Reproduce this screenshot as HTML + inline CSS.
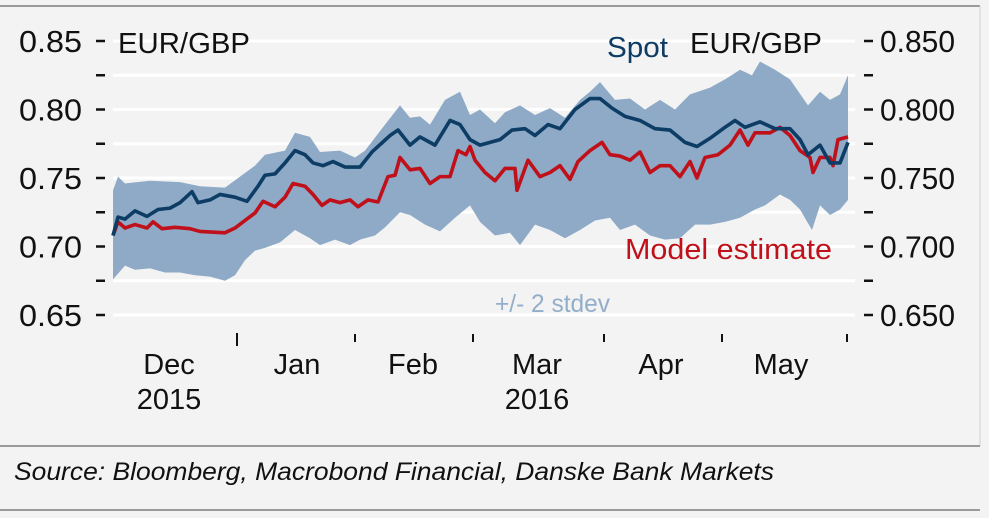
<!DOCTYPE html>
<html><head><meta charset="utf-8"><style>
html,body{margin:0;padding:0;background:#f3f3f3;}
svg{display:block;font-family:"Liberation Sans",sans-serif;}
</style></head><body>
<svg id="chart" width="989" height="518" viewBox="0 0 989 518">
<rect x="0" y="0" width="989" height="518" fill="#f3f3f3"/>
<line x1="0" y1="6" x2="980" y2="6" stroke="#9a9a9a" stroke-width="2"/>
<line x1="980" y1="6" x2="980" y2="446" stroke="#d0d0d0" stroke-width="1"/>
<g id="grid"></g>
<g id="band"></g>
<g id="lines"></g>
<g id="axes"></g>
<text x="118" y="53" font-size="29" fill="#111" textLength="132" lengthAdjust="spacingAndGlyphs">EUR/GBP</text>
<text x="690" y="53" font-size="29" fill="#111" textLength="132" lengthAdjust="spacingAndGlyphs">EUR/GBP</text>
<text x="607" y="57" font-size="29" fill="#0d3c64" textLength="61" lengthAdjust="spacingAndGlyphs">Spot</text>
<text x="625" y="259" font-size="29" fill="#c0101a" textLength="207" lengthAdjust="spacingAndGlyphs">Model estimate</text>
<text x="495" y="312" font-size="25" fill="#93aec8" textLength="115" lengthAdjust="spacingAndGlyphs">+/- 2 stdev</text>
<line x1="0" y1="446" x2="980" y2="446" stroke="#9a9a9a" stroke-width="2"/>
<text x="14" y="480" font-size="25" font-style="italic" fill="#111" textLength="760" lengthAdjust="spacingAndGlyphs">Source: Bloomberg, Macrobond Financial, Danske Bank Markets</text>
<line x1="0" y1="510" x2="980" y2="510" stroke="#9a9a9a" stroke-width="2"/>
</svg>
<script>
const yTicks=[0.65,0.70,0.75,0.80,0.85];
const yTickLabelsLeft=["0.65","0.70","0.75","0.80","0.85"];
const yTickLabelsRight=["0.650","0.700","0.750","0.800","0.850"];
const monthTickDays=[31,60.5,90,122.75,152.25,183.5];
const monthLabels=["Dec","Jan","Feb","Mar","Apr","May"];
const monthLabelDays=[14,46,75,106,137,167];
const yearLabels=["2015","2016"];
const yearLabelDays=[14,106];
const spotDays=[0,1.25,3,5.5,8.5,11.25,14.25,16.75,19.75,21.25,24.25,26.75,30.5,33.5,36.25,38,40.5,43,45.5,48,50,52.5,55,58,61.75,64.75,69.25,71.25,74.25,76.75,80.5,84.25,86.75,89.25,91.75,96.75,99.75,103,105.5,108.75,111.75,115.5,119.25,121.75,124.75,128,131.75,135.5,139.25,143,146,149.25,153,155.5,158,161.75,165.5,169.25,171.75,173.75,176.75,179.25,181.75,183.75];
const spotValues=[0.708,0.7215,0.720,0.726,0.722,0.727,0.728,0.732,0.740,0.732,0.734,0.738,0.736,0.733,0.744,0.752,0.753,0.761,0.770,0.767,0.761,0.759,0.762,0.758,0.758,0.769,0.781,0.785,0.774,0.780,0.774,0.792,0.789,0.778,0.774,0.778,0.785,0.786,0.781,0.789,0.786,0.800,0.808,0.808,0.801,0.795,0.792,0.786,0.785,0.776,0.773,0.779,0.787,0.792,0.787,0.791,0.786,0.786,0.778,0.767,0.774,0.761,0.761,0.776];
const modelDays=[0,1.25,3,5.5,8.5,10,12.25,15.5,19.25,21.75,28,30.5,33,35.5,37.5,40.5,43,45,48,50,52.25,54.25,56.75,59.25,61.25,63.75,66.25,68.75,70.5,71.75,74.25,76.75,79.25,81.75,84.25,86.25,88.25,89.25,90.5,93,95.5,98,100.5,101,103.75,106.75,109.25,111.75,114.25,116.25,119.25,122.25,124.25,126.75,129.25,131.75,134.25,136.75,139.25,141.75,144.25,146,148,151.25,154.25,156.75,158.75,160.5,164.25,166.75,169.25,171.75,174.25,175,176.75,179.25,180,181.25,183.75];
const modelValues=[0.708,0.718,0.7135,0.716,0.7135,0.718,0.713,0.714,0.713,0.711,0.710,0.7135,0.719,0.7245,0.733,0.729,0.736,0.746,0.744,0.738,0.730,0.734,0.732,0.734,0.729,0.734,0.7325,0.751,0.752,0.765,0.756,0.757,0.746,0.751,0.751,0.770,0.767,0.773,0.763,0.754,0.748,0.757,0.757,0.741,0.763,0.751,0.754,0.759,0.749,0.762,0.770,0.776,0.767,0.766,0.763,0.769,0.754,0.759,0.759,0.751,0.762,0.750,0.765,0.767,0.774,0.785,0.774,0.783,0.783,0.787,0.781,0.770,0.765,0.754,0.765,0.765,0.759,0.778,0.780];
const upperDays=[0,1.25,3,9.25,16.75,21.75,28,31.75,35.5,38,43,45.5,49.25,51.75,56.75,60.5,63,68,71.75,74.25,76.75,79.25,83,86.75,89.25,91.75,95.5,98,101.75,105.5,109.25,113,116.75,119.25,121.75,125.5,129.25,133,136.75,140.5,144.25,149.25,153,156.75,159.75,161.75,165.5,169.25,173.75,176.75,179.25,181.75,183.75];
const upperValues=[0.741,0.751,0.746,0.748,0.747,0.744,0.743,0.751,0.759,0.767,0.770,0.783,0.780,0.769,0.770,0.765,0.770,0.789,0.803,0.794,0.795,0.789,0.807,0.813,0.796,0.800,0.790,0.798,0.803,0.796,0.801,0.794,0.807,0.813,0.820,0.807,0.808,0.800,0.807,0.800,0.811,0.816,0.822,0.829,0.825,0.835,0.829,0.822,0.803,0.813,0.807,0.811,0.825];
const lowerDays=[0,3,5.5,9.25,13,16.75,20.5,24.25,28,30.5,33,35.5,38,41.75,45.5,49.25,51.75,55.5,59.25,61.75,65.5,68,71.75,74.25,78,81.75,85.5,89.25,91.75,95.5,99.25,101.75,105.5,109.25,113,116.75,120.5,124.25,126.75,130.5,134.25,138,141.75,145.5,149.25,153,156.75,160.5,163,166.75,169.25,171.75,174.75,176.75,179.25,181.75,183.75];
const lowerValues=[0.676,0.686,0.683,0.684,0.681,0.681,0.679,0.678,0.675,0.679,0.690,0.697,0.699,0.703,0.712,0.706,0.701,0.705,0.701,0.705,0.708,0.714,0.725,0.723,0.716,0.711,0.721,0.730,0.718,0.708,0.710,0.701,0.716,0.712,0.706,0.712,0.719,0.721,0.712,0.716,0.708,0.705,0.706,0.716,0.716,0.718,0.721,0.727,0.730,0.738,0.734,0.727,0.712,0.730,0.723,0.727,0.734];

const NS="http://www.w3.org/2000/svg";
const X0=113,X1=848,D0=0,D1=183.75;
const YT=41,YB=315,V0=0.65,V1=0.85;
function xs(d){return X0+(d-D0)/(D1-D0)*(X1-X0);}
function ys(v){return YB-(v-V0)/(V1-V0)*(YB-YT);}
function mk(tag,attrs,parent){const e=document.createElementNS(NS,tag);for(const k in attrs)e.setAttribute(k,attrs[k]);parent.appendChild(e);return e;}
const grid=document.getElementById('grid'),band=document.getElementById('band'),lines=document.getElementById('lines'),axes=document.getElementById('axes');
for(let i=0;i<yTicks.length;i++){
  for(const v of [yTicks[i], yTicks[i]+0.025]){
    if(v>V1+1e-9)continue;
    const g=mk('line',{x1:113,x2:855,y1:ys(v),y2:ys(v),stroke:'#ffffff','stroke-width':3},grid);
    
    
    const tl=mk('line',{x1:96,x2:105,y1:ys(v),y2:ys(v),stroke:'#111','stroke-width':2.5},axes);
    
    
    const tr=mk('line',{x1:864,x2:873,y1:ys(v),y2:ys(v),stroke:'#111','stroke-width':2.5},axes);
    
    
  }
  const l=mk('text',{x:82,y:ys(yTicks[i])+11,'font-size':31,'text-anchor':'end',fill:'#111',textLength:63,lengthAdjust:'spacingAndGlyphs'},axes);
  l.textContent=yTickLabelsLeft[i];
  
  
  const r=mk('text',{x:880,y:ys(yTicks[i])+11,'font-size':31,fill:'#111',textLength:75,lengthAdjust:'spacingAndGlyphs'},axes);
  r.textContent=yTickLabelsRight[i];
  
  
}
let pts=[];
for(let i=0;i<upperDays.length;i++)pts.push(xs(upperDays[i])+','+ys(upperValues[i]));
for(let i=lowerDays.length-1;i>=0;i--)pts.push(xs(lowerDays[i])+','+ys(lowerValues[i]));
const poly=mk('polygon',{points:pts.join(' '),fill:'#8eaac7'},band);


function line(days,vals,color,name){
  const p=days.map((d,i)=>xs(d)+','+ys(vals[i])).join(' ');
  const e=mk('polyline',{points:p,fill:'none',stroke:color,'stroke-width':3.6,'stroke-linejoin':'round'},lines);
  
  
}
line(modelDays,modelValues,'#c0101a','model-estimate-line');
line(spotDays,spotValues,'#0d3c64','spot-line');
monthTickDays.forEach((d,i)=>{
  const t=mk('line',{x1:xs(d),x2:xs(d),y1:i==0?333:334,y2:i==0?346:342,stroke:'#111','stroke-width':2},axes);
  
  
});
monthLabels.forEach((m,i)=>{
  const t=mk('text',{x:xs(monthLabelDays[i]),y:374,'font-size':29,'text-anchor':'middle',fill:'#111'},axes);
  t.textContent=m;
  
  
});
yearLabels.forEach((m,i)=>{
  const t=mk('text',{x:xs(yearLabelDays[i]),y:409,'font-size':29,'text-anchor':'middle',fill:'#111'},axes);
  t.textContent=m;
  
  
});
</script>
</body></html>
